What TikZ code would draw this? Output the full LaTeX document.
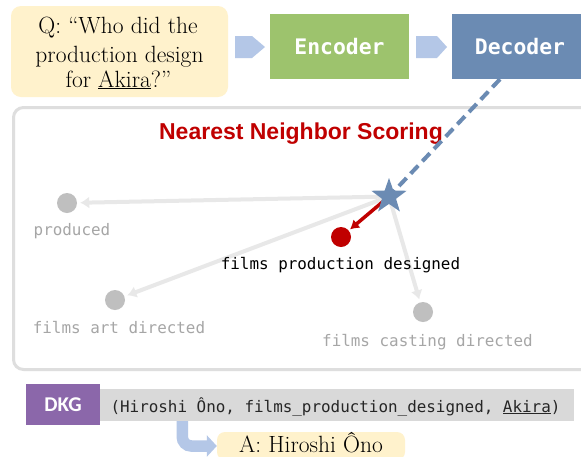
\documentclass[tikz,border=0pt]{standalone}
\usepackage{fontspec}
\usetikzlibrary{shapes.geometric,arrows.meta,calc}
\newfontfamily\monof{DejaVu Sans Mono}
\newfontfamily\titlef{Liberation Sans}
\newfontfamily\calf{Carlito}
\definecolor{qyel}{HTML}{FFF2CC}
\definecolor{chev}{HTML}{B4C7E7}
\definecolor{encg}{HTML}{9DC36D}
\definecolor{decb}{HTML}{6B8BB3}
\definecolor{panelg}{HTML}{DEDEDE}
\definecolor{lineg}{HTML}{E8E8E8}
\definecolor{dotg}{HTML}{BFBFBF}
\definecolor{labg}{HTML}{A6A6A6}
\definecolor{nnred}{HTML}{C00000}
\definecolor{dkgp}{HTML}{8B67AA}
\definecolor{barg}{HTML}{D9D9D9}
\begin{document}
\begin{tikzpicture}[x=1pt,y=-1pt,
  qline/.style={anchor=base, font=\fontsize{23.5}{27}\selectfont},
  blockbox/.style={rectangle, inner sep=0, minimum height=65, text=white,
    font=\monof\bfseries\fontsize{21.4}{24}\selectfont},
  chevshape/.style={fill=chev},
  dotnode/.style={circle, inner sep=0, minimum size=20, fill=dotg},
  lab/.style={anchor=base, inner sep=0, text=labg, font=\monof\fontsize{15.9}{19}\selectfont},
  grayarr/.style={draw=lineg, line width=4, -{Latex[length=9pt,width=12pt]}, shorten >=3pt},
  redarr/.style={draw=nnred, line width=3.5, -{Latex[length=9pt,width=11pt]}, shorten >=1.5pt},
  dashline/.style={draw=decb, line width=4, dash pattern=on 11pt off 6pt},
  bentarr/.style={draw=chev, line width=11.5, rounded corners=9, -{Triangle[length=10pt,width=21pt]}}
]
\useasboundingbox (0,0) rectangle (581,456);
\clip (0,0) rectangle (581,456);
\fill[white] (0,0) rectangle (581,456);

% question
\node[fill=qyel, rounded corners=10, minimum width=217, minimum height=91, inner sep=0] (q) at (119.5,51.5) {};
\node[qline] (q1) at (118,33) {Q: “Who did the};
\node[qline] (q2) at (119.5,62) {production design};
\node[qline, anchor=base west] (q3) at (62,87) {for \underline{Akira}?”};

% encoder / decoder
\fill[chevshape] (235,36) -- (252,36) -- (265,47) -- (252,58) -- (235,58) -- cycle;
\node[blockbox, fill=encg, minimum width=139] (enc) at (339.5,46.5) {Encoder};
\fill[chevshape] (416,36) -- (437,36) -- (447,47) -- (437,58) -- (416,58) -- cycle;
\node[blockbox, fill=decb, minimum width=136] (dec) at (520,46.5) {Decoder};

% panel
\node[draw=panelg, line width=3, rounded corners=10, minimum width=588, minimum height=262,
  inner sep=0, anchor=north west] (panel) at (12,106) {};
\node[anchor=base, inner sep=0, text=nnred, font=\titlef\bfseries\fontsize{23}{27}\selectfont]
  (title) at (301,139) {Nearest Neighbor Scoring};

% points
\coordinate (s) at (389,196.5);
\coordinate (dstart) at ($(dec.south)+(-20,0)$);
\node[dotnode] (p1) at (67,203) {};
\node[dotnode, fill=nnred] (rd) at (341,237) {};
\node[dotnode] (p3) at (115,300) {};
\node[dotnode] (p4) at (423,312) {};

\draw[grayarr] (s) -- (p1);
\draw[grayarr] (s) -- (p3);
\draw[grayarr] (s) -- (p4);
\draw[redarr] (s) -- (rd);
\draw[dashline] (dstart) -- (s);
\node[star, star points=5, star point ratio=2.5, fill=decb, inner sep=0, minimum size=37] (star) at (s) {};

\node[lab] (l1) at (72,235) {produced};
\node[lab, text=black] (l2) at (340.5,269) {films production designed};
\node[lab] (l3) at (119,333) {films art directed};
\node[lab] (l4) at (427.5,346) {films casting directed};

% DKG
\node[fill=dkgp, minimum width=74, minimum height=41, inner sep=0, text=white,
  font=\calf\bfseries\fontsize{21}{24}\selectfont] (dkg) at (63,404.5) {DKG};
\node[fill=barg, minimum width=474, minimum height=32, inner sep=0] (kg) at (337,405) {};
\node[anchor=base, inner sep=0, text=black!85, font=\monof\fontsize{15.9}{19}\selectfont]
  (kgt) at (335.5,412) {(Hiroshi Ôno, films\_production\_designed, \underline{Akira})};

% answer
\node[fill=qyel, rounded corners=8, minimum width=188, minimum height=28, inner sep=0,
  text height=15.5, text depth=3, font=\fontsize{23.5}{27}\selectfont] (ans) at (311,446) {A: Hiroshi Ôno};
\draw[bentarr] ($(kg.south west)+(82.5,0)$) |- (ans.west);
\end{tikzpicture}
\end{document}
